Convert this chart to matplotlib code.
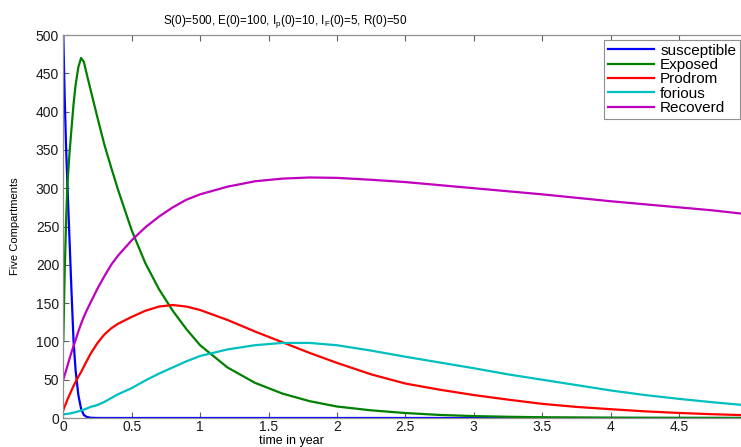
import matplotlib
matplotlib.use("Agg")
import matplotlib.pyplot as plt

plt.rcParams['font.family'] = ['Liberation Sans', 'DejaVu Sans']
plt.rcParams['mathtext.fontset'] = 'custom'
plt.rcParams['mathtext.rm'] = 'Liberation Sans'
plt.rcParams['mathtext.it'] = 'Liberation Sans'

# time in years
t = [0, 0.01, 0.02, 0.03, 0.045, 0.06, 0.075, 0.09, 0.11, 0.13, 0.15, 0.17,
     0.2, 0.25, 0.3, 0.35, 0.4, 0.5, 0.6, 0.7, 0.8, 0.9, 1.0, 1.2, 1.4, 1.6,
     1.8, 2.0, 2.25, 2.5, 2.75, 3.0, 3.25, 3.5, 3.75, 4.0, 4.25, 4.5, 4.75, 5.0]

susceptible = [500, 420, 355, 305, 235, 165, 100, 62, 30, 12, 4, 1.5,
               0.3, 0.05, 0, 0, 0, 0, 0, 0, 0, 0, 0, 0, 0, 0,
               0, 0, 0, 0, 0, 0, 0, 0, 0, 0, 0, 0, 0, 0]
exposed = [100, 190, 255, 305, 345, 378, 410, 435, 458, 470, 465, 450,
           428, 392, 357, 327, 298, 245, 202, 168, 140, 116, 95, 66, 46, 32,
           22, 15, 10, 6.5, 4, 2.5, 1.6, 1.0, 0.7, 0.45, 0.3, 0.2, 0.15, 0.1]
prodrom = [10, 15, 19.5, 24, 30, 36, 42, 47, 54, 60, 67, 74,
           84, 98, 109, 117, 123, 132, 140, 145.5, 147.5, 145.5, 141, 128, 113, 99,
           85, 72, 57, 45, 37, 30, 24, 18.5, 14.5, 11.5, 8.7, 6.6, 4.9, 3.6]
forious = [5, 5, 5.2, 5.4, 5.8, 6.3, 7, 7.7, 8.7, 9.8, 11, 12.3,
           14.5, 17, 21, 26, 31, 39, 49, 58, 66, 74, 81, 89.5, 95, 98,
           98, 95, 88, 80, 72.5, 65, 57, 50, 43, 36, 30, 25, 20.5, 16.5]
recovered = [50, 56, 62, 68, 77, 86, 94, 102, 113, 123, 132, 140,
             151, 169, 185, 200, 212, 232, 249, 263, 275, 285, 292, 302, 309, 312.5,
             314, 313.5, 311, 308, 304, 300, 296, 292, 287.5, 283, 279, 275, 271, 266]

labels = ['susceptible', 'Exposed', 'Prodrom', 'forious', 'Recoverd']
colors = ['#0000ff', '#008000', '#ff0000', '#00bfbf', '#bf00bf']
series = [susceptible, exposed, prodrom, forious, recovered]

xticks = [0, 0.5, 1, 1.5, 2, 2.5, 3, 3.5, 4, 4.5]
xticklabels = ['0', '0.5', '1', '1.5', '2', '2.5', '3', '3.5', '4', '4.5']
yticks = [0, 50, 100, 150, 200, 250, 300, 350, 400, 450, 500]

fig = plt.figure(figsize=(7.41, 4.47), dpi=100)
W, H = 741, 447
left, right, top, bottom = 63.3, 747.3, 35, 418
ax = fig.add_axes([left / W, 1 - bottom / H, (right - left) / W, (bottom - top) / H])

for y, c, lab in zip(series, colors, labels):
    ax.plot(t, y, color=c, lw=1.6, label=lab)

ax.set_xlim(0, 5)
ax.set_ylim(0, 500)
ax.set_xticks(xticks)
ax.set_xticklabels(xticklabels)
ax.set_yticks(yticks)
ax.tick_params(direction='in', length=4, width=0.8, color='#606060',
               top=True, right=True, labelsize=10, pad=3, labelcolor='#1a1a1a')
ax.tick_params(axis='x', pad=1.5)
for s in ax.spines.values():
    s.set_color('#909090')
    s.set_linewidth(0.9)

ax.set_xlabel('time in year', fontsize=9, va='bottom')
ax.xaxis.set_label_coords((291 - left) / (right - left), -(447 - bottom) / (bottom - top))
ax.set_ylabel('Five Compartments', fontsize=8, labelpad=11)
ax.set_title(r'S(0)=500, E(0)=100, I$_{\mathrm{p}}$(0)=10, I$_{\mathrm{F}}$(0)=5, R(0)=50',
             fontsize=8.4, pad=8)
ax.title.set_x((285 - left) / (right - left))

leg = ax.legend(loc='upper right', bbox_to_anchor=(740 / W, 1 - 40 / H),
                bbox_transform=fig.transFigure, borderaxespad=0, fontsize=11,
                handlelength=3.0, handletextpad=0.4, labelspacing=0.02,
                borderpad=0.25, fancybox=False, framealpha=1)
leg.get_frame().set_edgecolor('#909090')
leg.get_frame().set_linewidth(0.8)

fig.savefig('out.png', dpi=100)
